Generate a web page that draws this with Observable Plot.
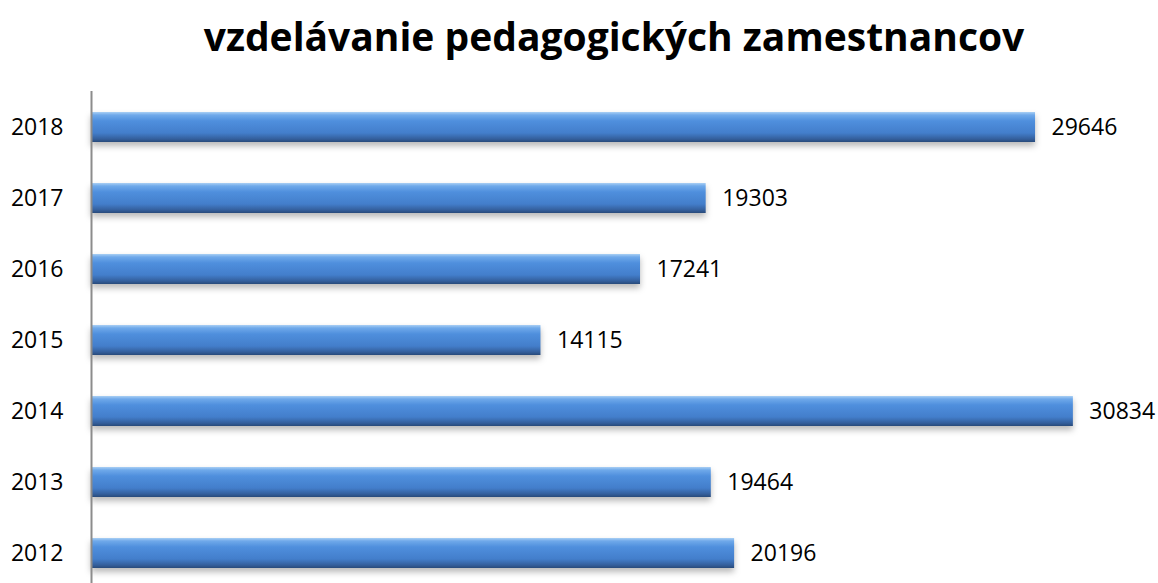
<!DOCTYPE html>
<html>
<head>
<meta charset="utf-8">
<script src="https://cdn.jsdelivr.net/npm/d3@7"></script>
<script src="https://cdn.jsdelivr.net/npm/@observablehq/plot@0.6"></script>
<style>
  html, body { margin: 0; padding: 0; background: #fff; overflow: hidden; }
  #title { height: 76px; box-sizing: border-box; padding-top: 12px; padding-left: 70px; text-align: center;
    font-family: "Open Sans", sans-serif; font-weight: 700; font-size: 39px; line-height: 48px; color: #000; white-space: nowrap; }
  #chart svg { display: block; }
</style>
</head>
<body>
<div id="title">vzdelávanie pedagogických zamestnancov</div>
<div id="chart"></div>
<script>
const years = ["2018", "2017", "2016", "2015", "2014", "2013", "2012"];
const values = [29646, 19303, 17241, 14115, 30834, 19464, 20196];
const data = years.map((y, i) => ({year: y, value: values[i]}));

const svg = Plot.plot({
  width: 1158,
  height: 513,
  marginTop: 15,
  marginBottom: 0,
  marginLeft: 91,
  marginRight: 48,
  style: {fontFamily: "'Open Sans', sans-serif", fontSize: "23px", color: "#000", background: "transparent"},
  x: {domain: [0, 32000], axis: null},
  y: {domain: years, paddingInner: 0.58, paddingOuter: 0.29, label: null},
  marks: [
    Plot.barX(data, {x: "value", y: "year", fill: "url(#barGrad)", className: "bars"}),
    Plot.ruleX([0], {stroke: "#8c8c8c", strokeWidth: 2}),
    Plot.axisY({tickSize: 0, tickPadding: 28, fontSize: 23, label: null}),
    Plot.text(data, {x: "value", y: "year", text: d => String(d.value), textAnchor: "start", dx: 16, fontSize: 23, fill: "#000"})
  ]
});

const defs = d3.select(svg).insert("defs", ":first-child");
const g = defs.append("linearGradient").attr("id", "barGrad").attr("x1", 0).attr("y1", 0).attr("x2", 0).attr("y2", 1);
[[0, "#a9cff4"], [0.1, "#6fa9ea"], [0.3, "#4f8fdd"], [0.7, "#437ecb"], [0.9, "#345f9c"], [1, "#284a7a"]]
  .forEach(([o, c]) => g.append("stop").attr("offset", o).attr("stop-color", c));
d3.select(svg).selectAll(".bars").style("filter", "drop-shadow(0px 4px 3px rgba(0,0,0,0.28))");

document.getElementById("chart").appendChild(svg);
</script>
</body>
</html>
